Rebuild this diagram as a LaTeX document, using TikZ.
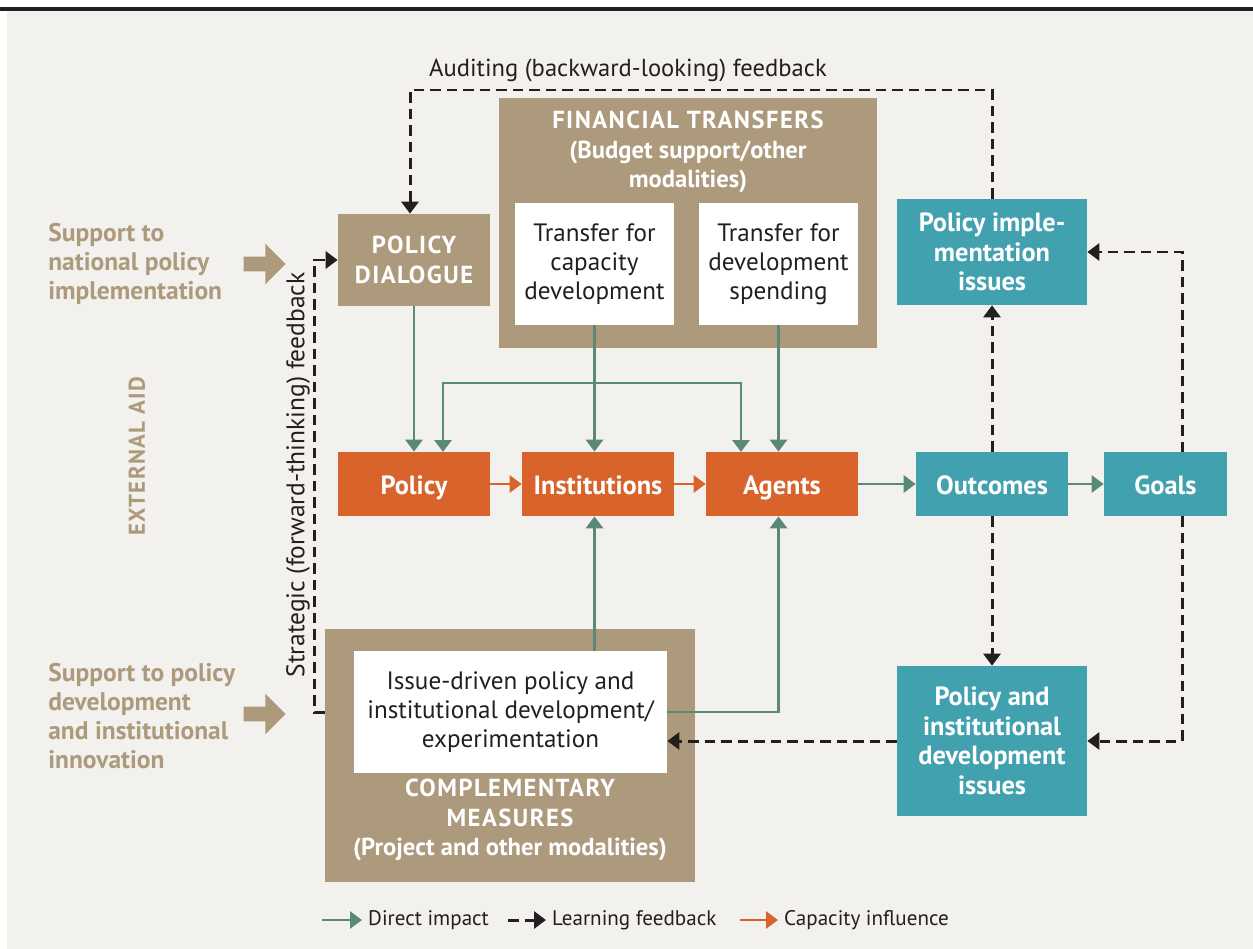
\documentclass[tikz,border=0pt]{standalone}
\usepackage{fontspec}
\setmainfont{PT Sans}
\usetikzlibrary{arrows.meta,positioning,shapes.arrows}
\definecolor{panel}{HTML}{F2F1ED}
\definecolor{tan}{HTML}{AD9A7C}
\definecolor{rust}{HTML}{D8632B}
\definecolor{teal}{HTML}{42A1AF}
\definecolor{sage}{HTML}{5A8A76}
\definecolor{ink}{HTML}{231F20}
\newcommand{\spaced}[1]{{\addfontfeatures{LetterSpace=6}#1}}
\tikzset{
    every node/.style = {font=\fontsize{13.5}{16.5}\selectfont},
    tip/.style = {-{Triangle[length=0.24cm,width=0.34cm]}},
    direct/.style = {tip, draw=sage, line width=1.6pt},
    learn/.style = {tip, draw=ink, line width=1.7pt, dash pattern=on 0.21cm off 0.12cm},
    capac/.style = {tip, draw=rust, line width=1.6pt},
    frame/.style = {rectangle, fill=tan, inner sep=0pt},
    heading/.style = {align=center, text=white, font=\fontsize{14}{16.8}\selectfont\bfseries},
    paper/.style = {rectangle, fill=white, inner sep=0pt, align=center, text=ink,
                    font=\fontsize{14.3}{16.6}\selectfont,
                    minimum width=3.18cm, minimum height=2.44cm},
    act/.style = {rectangle, fill=rust, inner sep=0pt, text=white, align=center,
                  font=\fontsize{15}{16.8}\selectfont\bfseries,
                  minimum width=3.04cm, minimum height=1.28cm},
    oneline/.style = {text height=14pt, text depth=2pt},
    result/.style = {act, fill=teal},
    side/.style = {anchor=west, align=left, text=tan, inner sep=0pt,
                   font=\fontsize{14.5}{16.4}\selectfont\bfseries},
    bigarrow/.style = {single arrow, fill=tan, inner sep=0pt, inner ysep=0.14cm,
                       single arrow head extend=0.26cm, minimum height=0.84cm},
    legend/.style = {anchor=west, text=ink, font=\fontsize{12}{14}\selectfont}
}
\begin{document}
\begin{tikzpicture}[x=0.02cm, y=-0.02cm]
  \useasboundingbox (0,0) rectangle (1253,949);
  \fill[panel] (7,10) rectangle (1253,949);
  \draw[ink, line width=1.8pt] (0,9) -- (1253,9);

  % external aid on the left
  \node (supimpl) at (48,264) [side] {Support to\\national policy\\implementation};
  \node (supdev) at (48,716) [side] {Support to policy\\development\\and institutional\\innovation};
  \node (arrimpl) at (261,264) [bigarrow] {};
  \node (arrdev) at (261,714) [bigarrow] {};
  \node (extaid) at (137,456) [rotate=90, text=tan,
        font=\fontsize{13}{15}\selectfont\bfseries] {\spaced{EXTERNAL AID}};

  % boxes
  \node (pd) at (414,260) [frame, heading, minimum width=3.04cm, minimum height=1.84cm]
        {\spaced{POLICY}\\\spaced{DIALOGUE}};
  \node (ft) at (688,223) [frame, minimum width=7.56cm, minimum height=5cm] {};
  \node (fttitle) at (688,152) [heading]
        {\spaced{FINANCIAL TRANSFERS}\\(Budget support/other\\modalities)};
  \node (cap) at (594.5,264) [paper] {Transfer for\\capacity\\development};
  \node (spend) at (778.5,264) [paper] {Transfer for\\development\\spending};
  \node (pii) at (992,252) [result, minimum width=3.8cm, minimum height=2.12cm]
        {Policy imple-\\mentation\\issues};

  \node (pol) at (414,484) [act, oneline] {Policy};
  \node (inst) at (598,484) [act, oneline] {Institutions};
  \node (agt) at (782,484) [act, oneline] {Agents};
  \node (out) at (992,484) [result, oneline] {Outcomes};
  \node (goal) at (1165.5,484) [result, oneline, minimum width=2.46cm] {Goals};

  \node (cm) at (510,755.5) [frame, minimum width=7.4cm, minimum height=5.06cm] {};
  \node (idp) at (510.5,712) [paper, minimum width=6.26cm]
        {Issue-driven policy and\\institutional development/\\experimentation};
  \node (cmtitle) at (510,820) [heading]
        {\spaced{COMPLEMENTARY}\\\spaced{MEASURES}\\(Project and other modalities)};
  \node (pidi) at (992,741) [result, minimum width=3.8cm, minimum height=3cm]
        {Policy and\\institutional\\development\\issues};

  % direct impact
  \coordinate (split) at (594,383);
  \coordinate (polin) at (443,452);
  \coordinate (agtin) at (741,452);
  \draw[direct] (pd.south) -- (pd.south |- pol.north);
  \draw[direct] (cap.south) -- (cap.south |- inst.north);
  \draw[direct] (split) -| (polin);
  \draw[direct] (split) -| (agtin);
  \draw[direct] (spend.south) -- (spend.south |- agt.north);
  \draw[direct] (cap.south |- idp.north) -- (cap.south |- inst.south);
  \draw[direct] (idp.east) -| (spend.south |- agt.south);
  \path (agt) edge [direct] (out);
  \path (out) edge [direct] (goal);

  % capacity influence
  \path (pol) edge [capac] (inst);
  \path (inst) edge [capac] (agt);

  % learning feedback
  \coordinate (auditc) at (410,90);
  \coordinate (gtop) at (1182,452);
  \coordinate (gbot) at (1182,516);
  \draw[learn] (pii.north) |- (auditc) -- (auditc |- pd.north);
  \node (audit) at (423,70) [anchor=west, text=ink, font=\fontsize{14}{16}\selectfont]
        {Auditing (backward-looking) feedback};
  \path (out.north) edge [learn] (pii.south);
  \path (out.south) edge [learn] (pidi.north);
  \draw[learn] (gtop) |- (pii.east);
  \draw[learn] (gbot) |- (pidi.east);
  \draw[learn] (pidi.west) -- (pidi.west -| idp.east);
  \draw[learn] (cm.west |- idp.east) -- ++(-10,0) |- (pd.west);
  \node (strat) at (298,475) [rotate=90, text=ink, font=\fontsize{14.5}{16}\selectfont]
        {Strategic (forward-thinking) feedback};

  % legend
  \coordinate (keydirect) at (322,920);
  \coordinate (keylearn) at (508,920);
  \coordinate (keycapac) at (740,920);
  \node (ldirect) at (362,920) [legend] {Direct impact};
  \node (llearn) at (546,920) [legend] {Learning feedback};
  \node (lcapac) at (778,920) [legend] {Capacity influence};
  \draw[direct] (keydirect) -- (ldirect.west);
  \draw[learn] (keylearn) -- (llearn.west);
  \draw[capac] (keycapac) -- (lcapac.west);
\end{tikzpicture}
\end{document}
